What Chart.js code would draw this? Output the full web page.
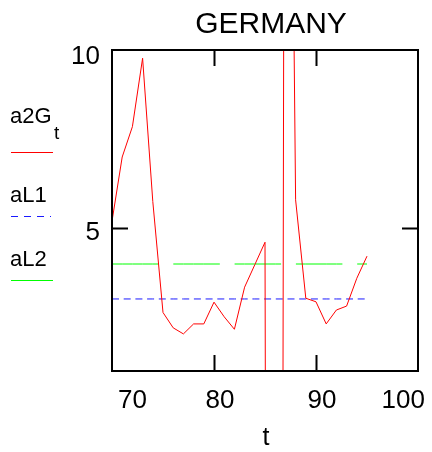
<!DOCTYPE html>
<html>
<head>
<meta charset="utf-8">
<script src="https://cdn.jsdelivr.net/npm/chart.js@4/dist/chart.umd.min.js"></script>
<style>
    html, body { margin: 0; padding: 0; background: #fff; }
    #wrap { width: 432px; height: 452px; }
</style>
</head>
<body>
<div id="wrap"><canvas id="chart-area" width="432" height="452"></canvas></div>
<script>
// years (t) and the three series
var years = [70, 71, 72, 73, 74, 75, 76, 77, 78, 79, 80, 81, 82, 83, 84, 85, 86, 87, 88, 89, 90, 91, 92, 93, 94, 95];
var a2G = [5.2, 7.0, 7.85, 9.77, 5.75, 2.64, 2.21, 2.04, 2.32, 2.32, 2.93, 2.52, 2.17, 3.35, 3.98, 4.61, -110, 35, 5.8, 3.04, 2.94, 2.32, 2.71, 2.82, 3.6, 4.22];
var aL1 = 3.02;
var aL2 = 4.0;

var xTicks = [70, 80, 90, 100];
var yTicks = [5, 10];
var xInnerTicks = [80, 90];
var yInnerTicks = [5];

function pts(vals) {
    return years.map(function (t, i) { return { x: t, y: vals[i] }; });
}
function flat(v) {
    return years.map(function (t) { return { x: t, y: v }; });
}

var mathcadFrame = {
    id: 'mathcadFrame',
    afterDraw: function (chart) {
        var ctx = chart.ctx;
        var a = chart.chartArea;
        var xs = chart.scales.x, ys = chart.scales.y;
        ctx.save();

        // frame
        ctx.strokeStyle = '#000';
        ctx.lineWidth = 2;
        ctx.strokeRect(a.left, a.top, a.right - a.left, a.bottom - a.top);

        // inner ticks
        ctx.beginPath();
        xInnerTicks.forEach(function (v) {
            var px = Math.round(xs.getPixelForValue(v)) + 0.5;
            ctx.moveTo(px, a.top); ctx.lineTo(px, a.top + 16);
            ctx.moveTo(px, a.bottom); ctx.lineTo(px, a.bottom - 16);
        });
        yInnerTicks.forEach(function (v) {
            var py = Math.round(ys.getPixelForValue(v)) + 0.5;
            ctx.moveTo(a.left, py); ctx.lineTo(a.left + 16, py);
            ctx.moveTo(a.right, py); ctx.lineTo(a.right - 16, py);
        });
        ctx.stroke();

        // tick labels
        ctx.fillStyle = '#000';
        ctx.font = '26px "Liberation Sans", Arial, sans-serif';
        ctx.textBaseline = 'alphabetic';
        xTicks.forEach(function (v, i) {
            var px = xs.getPixelForValue(v) + 6;
            ctx.textAlign = i === 0 ? 'left' : (i === xTicks.length - 1 ? 'right' : 'center');
            if (i === xTicks.length - 1) px += 1;
            ctx.fillText(String(v), px, 408);
        });
        ctx.textAlign = 'right';
        yTicks.forEach(function (v) {
            var py = ys.getPixelForValue(v);
            if (v === 10) py += 5; else py += 3;
            ctx.fillText(String(v), a.left - 12, py + 9);
        });

        // title and axis label
        ctx.textAlign = 'center';
        ctx.font = '30px "Liberation Sans", Arial, sans-serif';
        ctx.fillText('GERMANY', 271, 33);
        ctx.font = '25px "Liberation Sans", Arial, sans-serif';
        ctx.fillText('t', 266, 445);

        // legend on the left
        ctx.textAlign = 'left';
        ctx.font = '22px "Liberation Sans", Arial, sans-serif';
        ctx.fillText('a2G', 10, 123);
        ctx.font = '19px "Liberation Sans", Arial, sans-serif';
        ctx.fillText('t', 54, 139);
        ctx.font = '22px "Liberation Sans", Arial, sans-serif';
        ctx.fillText('aL1', 10, 202);
        ctx.fillText('aL2', 10, 266);

        ctx.lineWidth = 1;
        ctx.strokeStyle = '#ff0000';
        ctx.beginPath(); ctx.moveTo(11, 152.5); ctx.lineTo(53, 152.5); ctx.stroke();
        ctx.strokeStyle = '#1a1aff';
        ctx.setLineDash([7, 6]);
        ctx.beginPath(); ctx.moveTo(11, 216.5); ctx.lineTo(51, 216.5); ctx.stroke();
        ctx.setLineDash([]);
        ctx.strokeStyle = '#00ff00';
        ctx.beginPath(); ctx.moveTo(11, 280.5); ctx.lineTo(53, 280.5); ctx.stroke();

        ctx.restore();
    }
};

var config = {
    type: 'line',
    data: {
        datasets: [{
            label: 'a2G',
            data: pts(a2G),
            borderColor: '#ff0000',
            borderWidth: 1,
            pointRadius: 0,
            tension: 0
        }, {
            label: 'aL1',
            data: flat(aL1),
            borderColor: '#1a1aff',
            borderWidth: 1,
            borderDash: [7, 4.7],
            pointRadius: 0
        }, {
            label: 'aL2',
            data: flat(aL2),
            borderColor: '#00ff00',
            borderWidth: 1,
            borderDash: [46.5, 14.8],
            pointRadius: 0
        }]
    },
    options: {
        responsive: false,
        animation: false,
        layout: {
            padding: { left: 112, top: 50, right: 14, bottom: 81 }
        },
        plugins: {
            legend: { display: false },
            title: { display: false },
            tooltip: { enabled: false }
        },
        scales: {
            x: { type: 'linear', min: 70, max: 100, display: false },
            y: { type: 'linear', min: 1, max: 10, display: false }
        }
    },
    plugins: [mathcadFrame]
};

window.onload = function () {
    var ctx = document.getElementById('chart-area').getContext('2d');
    window.myLine = new Chart(ctx, config);
};
</script>
</body>
</html>
